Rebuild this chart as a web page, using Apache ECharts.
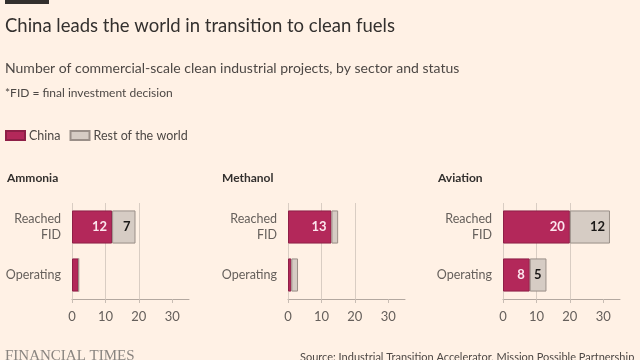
<!DOCTYPE html>
<html><head><meta charset="utf-8">
<script src="https://cdn.jsdelivr.net/npm/echarts@6/dist/echarts.min.js"></script>
<style>html,body{margin:0;padding:0;background:#FFF1E5;}#c{width:640px;height:360px;}</style>
</head><body><div id="c"></div>
<script>
const sectors = ['Ammonia', 'Methanol', 'Aviation'];
const statuses = ['Reached\nFID', 'Operating'];
const china = [[12, 2], [13, 1], [20, 8]];
const rest = [[7, 0], [2, 2], [12, 5]];
const tickValues = [0, 10, 20, 30];
const axisMax = 35;

const chinaColor = '#B3285A', chinaBorder = '#8E1F47';
const restColor = '#D6CCC4', restBorder = '#9A8F88';
const gridLefts = [72, 288, 503];
const titleLefts = [7, 222, 438];
const font = 'Lato, "Open Sans", sans-serif';

const chart = echarts.init(document.getElementById('c'));
const grids = [], xAxes = [], yAxes = [], series = [], titles = [];
function t(text, left, top, size, color, weight, family) {
  titles.push({text, left, top, padding: 0,
    textStyle: {fontFamily: family || font, fontSize: size, fontWeight: weight || 'normal', color}});
}
t('China leads the world in transition to clean fuels', 5, 17, 18.5, '#33302E');
t('Number of commercial-scale clean industrial projects, by sector and status', 5, 61, 14, '#4D4845');
t('*FID = final investment decision', 5, 87, 12, '#4D4845');
t('FINANCIAL TIMES', 5, 349, 15, '#8A8580', 'normal', '"Liberation Serif", serif');
t('Source: Industrial Transition Accelerator, Mission Possible Partnership', 300, 352, 11, '#4D4845');

sectors.forEach((s, i) => {
  t(s, titleLefts[i], 172, 12, '#33302E', 'bold');
  grids.push({left: gridLefts[i], top: 203, width: 117, height: 96});
  xAxes.push({type: 'value', gridIndex: i, min: 0, max: axisMax, interval: 10,
    axisLine: {show: true, lineStyle: {color: '#B3A8A0', width: 1}},
    axisTick: {show: true, length: 4, customValues: tickValues, lineStyle: {color: '#C8BDB4'}},
    axisLabel: {customValues: tickValues, color: '#66605C', fontSize: 13, fontFamily: font, margin: 11},
    splitLine: {show: true, showMaxLine: false, lineStyle: {color: '#D9CDC3', width: 1}}
  });
  yAxes.push({type: 'category', gridIndex: i, data: statuses, inverse: true,
    axisLine: {show: false}, axisTick: {show: false},
    axisLabel: {color: '#66605C', fontSize: 12.5, fontFamily: font, margin: 11, lineHeight: 16}
  });
  series.push({name: 'China', type: 'bar', stack: 's' + i, xAxisIndex: i, yAxisIndex: i,
    data: china[i], barCategoryGap: '31%',
    itemStyle: {color: chinaColor, borderColor: chinaBorder, borderWidth: 1},
    label: {show: true, position: 'insideRight', distance: 5, color: '#FCE6EE', fontWeight: 'bold',
      fontSize: 13, fontFamily: font, formatter: p => p.value >= 5 ? p.value : ''}
  });
  series.push({name: 'Rest of the world', type: 'bar', stack: 's' + i, xAxisIndex: i, yAxisIndex: i,
    data: rest[i], barCategoryGap: '31%',
    itemStyle: {color: restColor, borderColor: restBorder, borderWidth: 1},
    label: {show: true, position: 'insideRight', distance: 5, color: '#1A1817', fontWeight: 'bold',
      fontSize: 13, fontFamily: font, formatter: p => p.value >= 5 ? p.value : ''}
  });
});

chart.setOption({
  backgroundColor: '#FFF1E5',
  animation: false,
  title: titles,
  legend: {data: ['China', 'Rest of the world'], left: 5, top: 129, padding: 0, icon: 'rect', itemWidth: 19, itemHeight: 9,
    itemGap: 9, textStyle: {color: '#4D4845', fontSize: 12.5, fontFamily: font, padding: [0, 0, 0, -1]}},
  graphic: [{type: 'rect', left: 5, top: 0, shape: {width: 44, height: 4}, style: {fill: '#33302E'}}],
  grid: grids, xAxis: xAxes, yAxis: yAxes, series: series
});
</script></body></html>
